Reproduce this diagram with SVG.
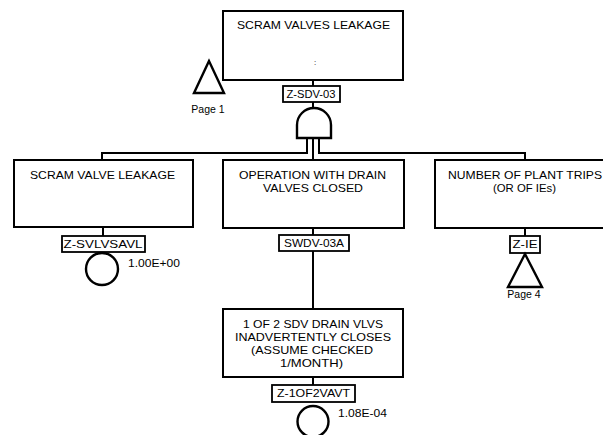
<svg xmlns="http://www.w3.org/2000/svg" width="603" height="435" viewBox="0 0 603 435">
  <defs>
    <style>
      .box { fill: #fff; stroke: #000; stroke-width: 2; }
      .tag { fill: #fff; stroke: #000; stroke-width: 1.8; }
      .ln { fill: none; stroke: #000; stroke-width: 2; }
      .sym { fill: #fff; stroke: #000; stroke-width: 2.4; }
      text { font-family: "Liberation Sans", Arial, sans-serif; fill: #000; }
      .t { font-size: 11.5px; text-anchor: middle; }
      .id { font-size: 11px; text-anchor: middle; }
      .val { font-size: 10.5px; }
      .pg { font-size: 10.5px; text-anchor: middle; }
    </style>
  </defs>
  <rect width="603" height="435" fill="#fff"/>

  <!-- connectors -->
  <g id="connectors">
    <line class="ln" x1="313" y1="80" x2="313" y2="86"/>
    <line class="ln" x1="313" y1="102" x2="313" y2="108"/>
    <polyline class="ln" points="307,138 307,153 102,153 102,160"/>
    <line class="ln" x1="313" y1="138" x2="313" y2="160"/>
    <polyline class="ln" points="319,138 319,153 525,153 525,160"/>
    <line class="ln" x1="103" y1="227" x2="103" y2="236"/>
    <line class="ln" x1="313" y1="228" x2="313" y2="235"/>
    <line class="ln" x1="313" y1="251" x2="313" y2="309"/>
    <line class="ln" x1="525" y1="228" x2="525" y2="236"/>
    <line class="ln" x1="313" y1="377" x2="313" y2="385"/>
  </g>

  <!-- top event -->
  <g id="top-event">
    <rect class="box" x="223" y="11" width="180" height="69"/>
    <text class="t" x="313.5" y="29" textLength="153" lengthAdjust="spacingAndGlyphs">SCRAM VALVES LEAKAGE</text>
    <text x="315" y="65" font-size="8" text-anchor="middle">:</text>
    <rect class="tag" x="283" y="86" width="57" height="16"/>
    <text class="id" x="311" y="98" textLength="49" lengthAdjust="spacingAndGlyphs">Z-SDV-03</text>
  </g>

  <!-- transfer from page 1 -->
  <g id="transfer-page1">
    <polygon class="sym" points="209,61 194,93 224,93"/>
    <text class="pg" x="208" y="113">Page 1</text>
  </g>

  <!-- AND gate -->
  <g id="and-gate">
    <path class="sym" d="M297,138 L297,125 A17,17 0 0 1 331,125 L331,138 Z"/>
  </g>

  <!-- scram valve leakage -->
  <g id="scram-valve-leakage">
    <rect class="box" x="14" y="160" width="179" height="67"/>
    <text class="t" x="102.5" y="179" textLength="145" lengthAdjust="spacingAndGlyphs">SCRAM VALVE LEAKAGE</text>
    <rect class="tag" x="62" y="236" width="83" height="16"/>
    <text class="id" x="103" y="248" textLength="79" lengthAdjust="spacingAndGlyphs">Z-SVLVSAVL</text>
    <circle class="sym" cx="102" cy="269" r="16"/>
    <text class="val" x="128" y="267" textLength="52" lengthAdjust="spacingAndGlyphs">1.00E+00</text>
  </g>

  <!-- operation with drain valves closed -->
  <g id="drain-valves-closed">
    <rect class="box" x="223" y="160" width="181" height="68"/>
    <text class="t" x="312.5" y="179" textLength="147" lengthAdjust="spacingAndGlyphs">OPERATION WITH DRAIN</text>
    <text class="t" x="313" y="192" textLength="100" lengthAdjust="spacingAndGlyphs">VALVES CLOSED</text>
    <rect class="tag" x="279" y="235" width="70" height="16"/>
    <text class="id" x="314" y="247" textLength="60" lengthAdjust="spacingAndGlyphs">SWDV-03A</text>
  </g>

  <!-- number of plant trips -->
  <g id="plant-trips">
    <rect class="box" x="435" y="160" width="182" height="68"/>
    <text class="t" x="525" y="179" textLength="154" lengthAdjust="spacingAndGlyphs">NUMBER OF PLANT TRIPS</text>
    <text class="t" x="524.5" y="192" textLength="63" lengthAdjust="spacingAndGlyphs">(OR OF IEs)</text>
    <rect class="tag" x="510" y="236" width="30" height="17"/>
    <text class="id" x="525" y="248" textLength="25" lengthAdjust="spacingAndGlyphs">Z-IE</text>
    <polygon class="sym" points="525,254 508,287 542,287"/>
    <text class="pg" x="524" y="298">Page 4</text>
  </g>

  <!-- 1 of 2 SDV drain valves closes -->
  <g id="drain-valve-closes">
    <rect class="box" x="223" y="309" width="180" height="68"/>
    <text class="t" x="313" y="328" textLength="140" lengthAdjust="spacingAndGlyphs">1 OF 2 SDV DRAIN VLVS</text>
    <text class="t" x="313" y="341" textLength="156" lengthAdjust="spacingAndGlyphs">INADVERTENTLY CLOSES</text>
    <text class="t" x="312" y="354" textLength="122" lengthAdjust="spacingAndGlyphs">(ASSUME CHECKED</text>
    <text class="t" x="311.5" y="367" textLength="63" lengthAdjust="spacingAndGlyphs">1/MONTH)</text>
    <rect class="tag" x="272" y="385" width="83" height="17"/>
    <text class="id" x="313.5" y="397" textLength="73" lengthAdjust="spacingAndGlyphs">Z-1OF2VAVT</text>
    <circle class="sym" cx="313" cy="421.5" r="15.5"/>
    <text class="val" x="338" y="417" textLength="49" lengthAdjust="spacingAndGlyphs">1.08E-04</text>
  </g>
</svg>
